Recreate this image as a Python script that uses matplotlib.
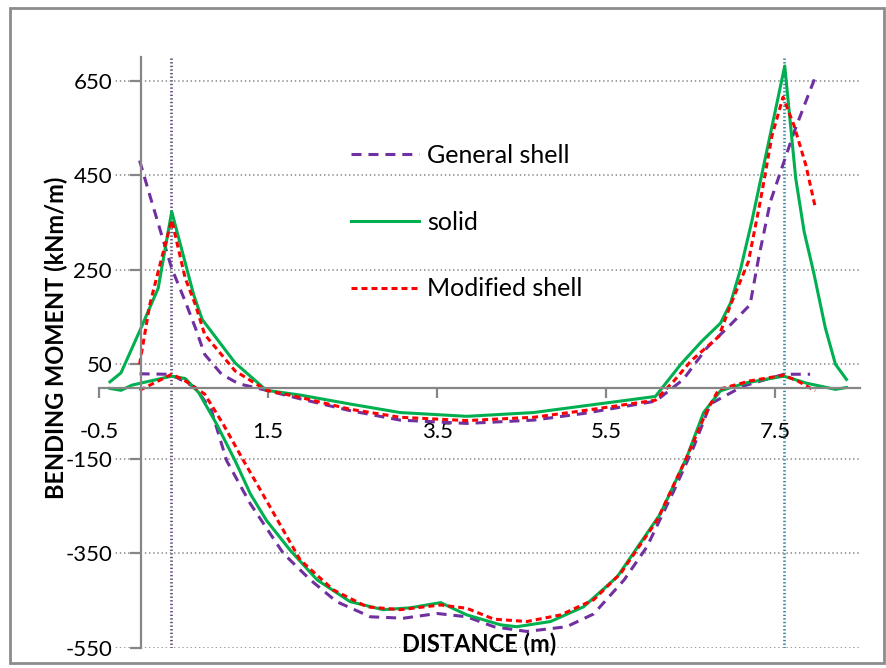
import matplotlib
matplotlib.use('Agg')
import matplotlib.pyplot as plt
from matplotlib.lines import Line2D
from matplotlib.patches import Rectangle

plt.rcParams['font.family'] = ['Lato', 'DejaVu Sans']
plt.rcParams['lines.scale_dashes'] = False

# bending moment along the distance, upper and lower curve for each model
general_top_x = [-0.02, 0.10, 0.24, 0.36, 0.52, 0.64, 0.75, 0.95, 1.15, 1.48, 1.88, 2.47, 3.06, 3.85,
                 4.64, 5.23, 6.08, 6.14, 6.41, 6.69, 6.97, 7.20, 7.30, 7.44, 7.60, 7.72, 7.84, 7.97]
general_top_y = [481, 408, 324, 253, 183, 127, 71, 29, 9, -5, -23, -48, -68, -75,
                 -68, -54, -28, -20, 18, 85, 134, 176, 274, 394, 478, 541, 597, 657]
general_bot_x = [-0.02, 0.30, 0.42, 0.64, 0.83, 1.01, 1.29, 1.68, 2.00, 2.31, 2.71, 3.10, 3.50, 3.85,
                 4.17, 4.56, 5.03, 5.35, 5.71, 5.98, 6.30, 6.53, 6.73, 6.87, 7.12, 7.60, 7.91]
general_bot_y = [30, 29, 22, 1, -48, -154, -245, -350, -406, -452, -484, -487, -477, -484,
                 -505, -515, -505, -478, -406, -336, -217, -126, -34, -20, 4, 29, 29]

solid_top_x = [-0.37, -0.24, -0.02, 0.20, 0.36, 0.62, 0.72, 1.11, 1.48, 1.88, 2.47, 3.06, 3.85, 4.64,
               5.23, 6.08, 6.38, 6.63, 6.85, 6.97, 7.09, 7.22, 7.42, 7.61, 7.74, 7.84, 7.95, 8.09,
               8.21, 8.34]
solid_top_y = [13, 32, 120, 211, 373, 197, 145, 53, -5, -15, -34, -52, -60, -52,
               -38, -18, 50, 99, 137, 180, 253, 352, 520, 681, 443, 330, 246, 127,
               50, 18]
solid_bot_x = [-0.37, -0.24, -0.11, 0.36, 0.52, 0.68, 0.89, 1.11, 1.29, 1.48, 1.76, 2.08, 2.47, 2.86,
               3.18, 3.54, 3.85, 4.25, 4.44, 4.84, 5.23, 5.63, 6.14, 6.45, 6.65, 6.85, 7.16, 7.60,
               7.87, 8.21, 8.34]
solid_bot_y = [-1, -5, 6, 25, 20, -10, -76, -154, -224, -280, -343, -406, -452, -469,
               -465, -454, -480, -501, -505, -494, -463, -399, -266, -147, -52, -6, 11, 25,
               10, -3, 1]

modified_top_x = [-0.02, 0.10, 0.24, 0.36, 0.52, 0.64, 0.75, 1.11, 1.48, 1.88, 2.47, 3.06, 3.85, 4.64,
                  5.23, 6.08, 6.30, 6.50, 6.83, 6.97, 7.18, 7.32, 7.46, 7.59, 7.72, 7.86, 7.97]
modified_top_y = [50, 176, 274, 355, 232, 176, 113, 36, -5, -20, -45, -62, -69, -62,
                  -48, -26, 15, 57, 109, 176, 267, 394, 534, 615, 555, 471, 383]
modified_bot_x = [-0.02, 0.36, 0.52, 0.75, 0.97, 1.21, 1.48, 1.88, 2.27, 2.67, 3.06, 3.54, 3.85, 4.17,
                  4.56, 4.96, 5.35, 5.67, 6.10, 6.45, 6.69, 6.83, 7.20, 7.60, 7.76, 7.97]
modified_bot_y = [-5, 29, 15, -13, -77, -154, -238, -364, -427, -463, -469, -459, -466, -489,
                  -494, -480, -448, -392, -280, -147, -48, -3, 15, 27, 15, -6]

support_x = [0.35, 7.6]
support_colors = ['#5f497a', '#31859c']
xticks = [-0.5, 1.5, 3.5, 5.5, 7.5]
yticks = [-550, -350, -150, 50, 250, 450, 650]

purple = '#7030a0'
green = '#00b050'
red = '#ff0000'
gray = '#868686'

fig = plt.figure(figsize=(8.86, 6.68), dpi=100)
ax = fig.add_axes([99/886, 20/668, 761/886, 591/668])

ax.set_xlim(-0.5, 8.5)
ax.set_ylim(-550, 700)
ax.set_xticks(xticks)
ax.set_xticklabels([str(v) for v in xticks])
ax.set_yticks(yticks)
ax.set_yticklabels([str(v) for v in yticks])

ax.yaxis.grid(True, ls=(0, (1, 2)), color='#8c8c8c', lw=1.2)
ax.spines['top'].set_visible(False)
ax.spines['right'].set_visible(False)
ax.spines['left'].set_position(('data', 0))
ax.spines['bottom'].set_position(('data', 0))
for s in ['left', 'bottom']:
    ax.spines[s].set_color(gray)
    ax.spines[s].set_linewidth(1.6)
ax.tick_params(axis='x', direction='out', length=7, width=1.6, color=gray, pad=17.5, labelsize=16)
ax.tick_params(axis='y', direction='out', length=8, width=1.6, color=gray, pad=13, labelsize=16)
for lab in ax.get_yticklabels():
    lab.set_bbox(dict(facecolor='white', edgecolor='none', pad=1))

for xv, c in zip(support_x, support_colors):
    ax.axvline(xv, color=c, ls=(0, (1, 1.6)), lw=1.9, zorder=1)

gs_style = dict(color=purple, lw=2.2, ls=(0, (7.2, 5)))
so_style = dict(color=green, lw=2.2, ls='-')
ms_style = dict(color=red, lw=2.2, ls=(0, (4.3, 2.9)))

ax.plot(general_top_x, general_top_y, **gs_style)
ax.plot(general_bot_x, general_bot_y, **gs_style)
ax.plot(solid_top_x, solid_top_y, **so_style)
ax.plot(solid_bot_x, solid_bot_y, **so_style)
ax.plot(modified_top_x, modified_top_y, **ms_style)
ax.plot(modified_bot_x, modified_bot_y, **ms_style)

handles = [Line2D([], [], **gs_style), Line2D([], [], **so_style), Line2D([], [], **ms_style)]
ax.legend(handles, ['General shell', 'solid', 'Modified shell'], loc='center left',
          bbox_to_anchor=(351/886, 446/668), bbox_transform=fig.transFigure,
          frameon=False, fontsize=18, handlelength=2.72, handletextpad=0.32,
          labelspacing=1.75, borderpad=0, borderaxespad=0)

fig.text(56/886, 330/668, 'BENDING MOMENT (kNm/m)', rotation=90, ha='center', va='center',
         fontsize=17, fontweight='bold')
fig.text(479/886, 24/668, 'DISTANCE (m)', ha='center', va='center', fontsize=17, fontweight='bold')

fig.patches.append(Rectangle((10/886, 5/668), 874/886, 655/668, transform=fig.transFigure,
                             fill=False, ec='#8c8c8c', lw=2))

fig.savefig('out.png', dpi=100)
